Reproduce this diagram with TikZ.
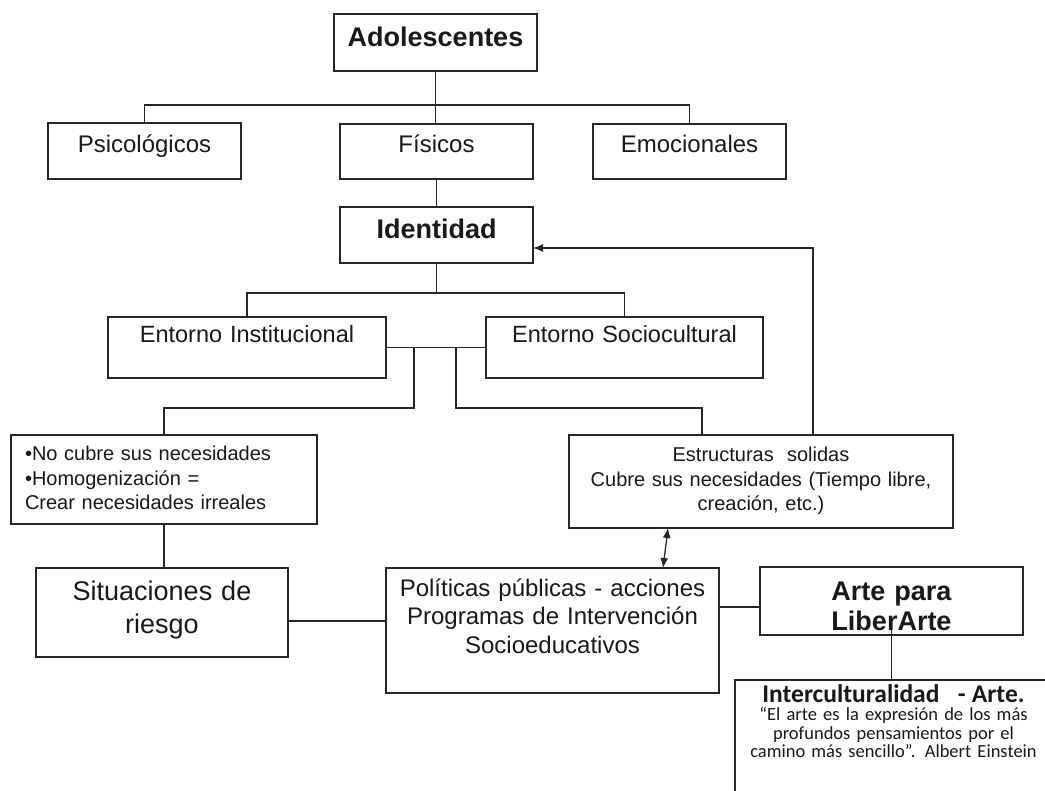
\documentclass[tikz,border=0pt]{standalone}
\usepackage{fontspec}
\setmainfont{Liberation Sans}
\newfontfamily\calib{Carlito}
\usetikzlibrary{arrows.meta}
\tikzset{
  box/.style={draw=black!85, line width=1.4pt, inner sep=0pt, outer sep=0pt, anchor=north west, align=center, text=black!90},
  link/.style={draw=black!85, line width=1.3pt},
  arr/.style={link, -{Latex[length=10pt,width=8pt]}},
  darr/.style={link, {Latex[length=10pt,width=8pt]}-{Latex[length=10pt,width=8pt]}},
  big/.style={font=\fontsize{27}{33}\selectfont},
  bigb/.style={font=\bfseries\fontsize{27}{31}\selectfont},
  mid/.style={font=\fontsize{24}{28.5}\selectfont},
  small/.style={font=\fontsize{20}{24.3}\selectfont},
}
\begin{document}
\begin{tikzpicture}[x=1pt,y=-1pt]
\useasboundingbox (0,0) rectangle (1045,791);
\clip (0,0) rectangle (1045,791);
\fill[white] (0,0) rectangle (1045,791);

\node[box, bigb, text width=203pt, text height=33pt, text depth=24pt] (ado) at (334,14) {Adolescentes};
\node[box, mid, text width=193pt, text height=30pt, text depth=26pt] (psi) at (48,123) {Psicológicos};
\node[box, mid, text width=193pt, text height=29pt, text depth=26pt] (fis) at (340,124) {Físicos};
\node[box, mid, text width=193pt, text height=29pt, text depth=26pt] (emo) at (593,124) {Emocionales};
\node[box, bigb, text width=193pt, text height=32pt, text depth=24pt] (ident) at (340,207) {Identidad};
\node[box, font=\fontsize{23.5}{28}\selectfont, text width=278pt, text height=26pt, text depth=35pt] (inst) at (108,317) {Entorno Institucional};
\node[box, font=\fontsize{23.5}{28}\selectfont, text width=277pt, text height=26pt, text depth=35pt] (soc) at (486,317) {Entorno Sociocultural};
\node[box, small, align=left, inner xsep=14pt, text width=278pt, text height=26pt, text depth=63pt] (nocub) at (11,435) {•No cubre sus necesidades\\•Homogenización =\\Crear necesidades irreales};
\node[box, small, text width=384pt, text height=27pt, text depth=66pt] (estr) at (569,435) {Estructuras\ \ solidas\\Cubre sus necesidades (Tiempo libre,\\creación, etc.)};
\node[box, big, text width=252pt, text height=32pt, text depth=57pt] (sit) at (36,568) {Situaciones de\\riesgo};
\node[box, mid, text width=333pt, text height=28pt, text depth=97pt] (pol) at (386,568) {Políticas públicas - acciones\\Programas de Intervención\\Socioeducativos};
\node[box, bigb, text width=263pt, text height=33pt, text depth=35pt] (arte) at (760,567) {Arte para\\LiberArte};
\node[box, draw=none, font=\calib\fontsize{18.5}{18.5}\selectfont, text width=317pt, text height=22pt, text depth=98pt] (inter) at (735,680)
  {{\bfseries\fontsize{25.5}{18.5}\selectfont Interculturalidad\ \ \ - Arte.}\\“El arte es la expresión de los más\\profundos pensamientos por el\\camino más sencillo”. Albert Einstein};
\draw[draw=black!85, line width=1.4pt] (inter.south west) -- (inter.north west) -- (inter.north east);

% connectors
\draw[link] (ado.south) -- (ado.south |- fis.north);
\draw[link] (psi.north) -- ++(0,-18) -| (emo.north);
\draw[link] (fis.south) -- (fis.south |- ident.north);
\draw[link] (inst.north) -- ++(0,-24) coordinate (busB) -| (soc.north);
\draw[link] (ident.south) -- (ident.south |- busB);
\draw[link] (inst.east) -- (soc.west);
\coordinate (j1) at (414,347.5);
\coordinate (j2) at (456,347.5);
\coordinate (e1) at (702,435);
\coordinate (e2) at (813,435);
\draw[link] (nocub.north) -- ++(0,-27) -| (j1);
\draw[link] (j2) -- ++(0,60.5) -| (e1);
\draw[arr] (e2) |- ([yshift=-13pt]ident.east);
\draw[link] (nocub.south) -- (nocub.south |- sit.north);
\draw[link] ([yshift=-8.5pt]sit.east) -- ([yshift=-8.5pt]sit.east -| pol.west);
\draw[link] ([yshift=-6pt]arte.west) -- ([yshift=-6pt]arte.west -| pol.east);
\draw[darr] ([xshift=-93pt]estr.south) -- ([xshift=110.5pt]pol.north);
\draw[link] ([yshift=5pt]arte.south) -- (arte.south |- inter.north);
\end{tikzpicture}
\end{document}
